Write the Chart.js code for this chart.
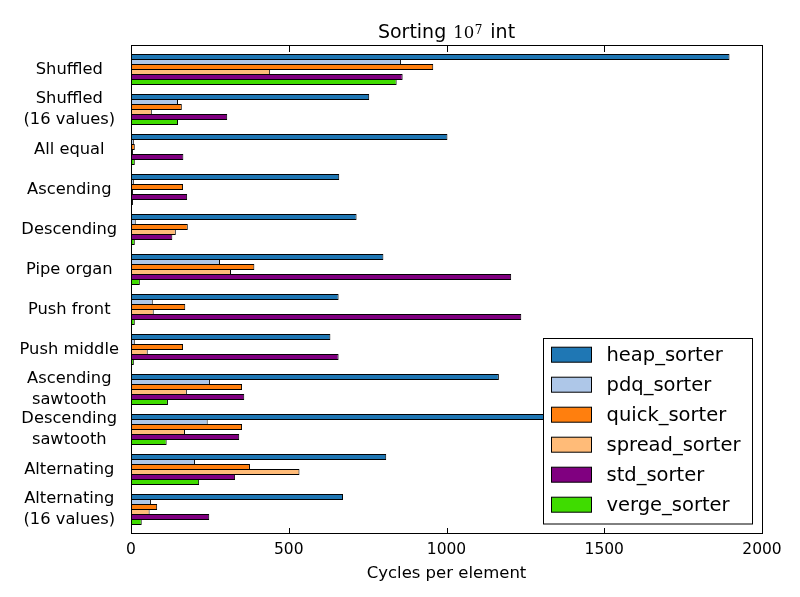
<!DOCTYPE html>
<html>
<head>
<meta charset="utf-8">
<script src="https://cdn.jsdelivr.net/npm/chart.js@4.4.0/dist/chart.umd.min.js"></script>
<style>
html,body{margin:0;padding:0;background:#fff;}
canvas{display:block;}
</style>
</head>
<body>
<canvas id="c" width="800" height="597" style="width:800px;height:597px"></canvas>
<script>
const categories = [
  'Shuffled', 'Shuffled\n(16 values)', 'All equal', 'Ascending', 'Descending',
  'Pipe organ', 'Push front', 'Push middle', 'Ascending\nsawtooth',
  'Descending\nsawtooth', 'Alternating', 'Alternating\n(16 values)'
];
const seriesNames = ['heap_sorter', 'pdq_sorter', 'quick_sorter', 'spread_sorter', 'std_sorter', 'verge_sorter'];
const heapSorter   = [1897, 755, 1003, 660, 715, 800, 658, 632, 1166, 1380, 809, 672];
const pdqSorter    = [856, 149, 9, 9, 15, 282, 69, 12, 250, 243, 203, 63];
const quickSorter  = [958, 161, 12, 165, 180, 391, 172, 165, 352, 352, 377, 83];
const spreadSorter = [441, 66, 6, 6, 142, 317, 72, 53, 177, 171, 534, 59];
const stdSorter    = [861, 305, 166, 178, 131, 1205, 1237, 658, 359, 343, 330, 248];
const vergeSorter  = [842, 149, 12, 6, 12, 28, 12, 9, 117, 113, 216, 34];
const xTickValues  = [0, 500, 1000, 1500, 2000];

const seriesValues = [heapSorter, pdqSorter, quickSorter, spreadSorter, stdSorter, vergeSorter];
const seriesColors = ['#1f77b4', '#aec7e8', '#ff7f0e', '#ffbb78', '#800080', '#3fdc00'];
const FONT = '"DejaVu Sans", sans-serif';

const framePlugin = {
  id: 'frame',
  afterDatasetsDraw(chart) {
    const {ctx, chartArea: a, scales} = chart;
    ctx.save();
    ctx.strokeStyle = '#000';
    ctx.lineWidth = 1;
    ctx.strokeRect(Math.round(a.left) + 0.5, Math.round(a.top) - 0.5, Math.round(a.right - a.left), Math.round(a.bottom - a.top));
    ctx.beginPath();
    xTickValues.forEach(v => {
      const px = Math.round(scales.x.getPixelForValue(v)) + 0.5;
      ctx.moveTo(px, a.top); ctx.lineTo(px, a.top + 6);
      ctx.moveTo(px, a.bottom); ctx.lineTo(px, a.bottom - 6);
    });
    ctx.stroke();
    ctx.restore();
  }
};

const titlePlugin = {
  id: 'customTitle',
  afterDraw(chart) {
    const {ctx, chartArea: a} = chart;
    const parts = [
      {t: 'Sorting', f: '19px ' + FONT, dy: 0, gap: 7},
      {t: '10', f: '16.5px "DejaVu Serif", serif', dy: 0, gap: 0.5},
      {t: '7', f: '12px "DejaVu Serif", serif', dy: -4, gap: 8},
      {t: 'int', f: '19px ' + FONT, dy: 0, gap: 0}
    ];
    ctx.save();
    ctx.fillStyle = '#000';
    ctx.textBaseline = 'alphabetic';
    ctx.textAlign = 'left';
    let total = 0;
    parts.forEach(p => { ctx.font = p.f; p.w = ctx.measureText(p.t).width; total += p.w + p.gap; });
    let x = (a.left + a.right) / 2 - total / 2;
    const base = 37.5;
    parts.forEach(p => { ctx.font = p.f; ctx.fillText(p.t, x, base + p.dy); x += p.w + p.gap; });
    ctx.restore();
  }
};

const legendPlugin = {
  id: 'customLegend',
  afterDraw(chart) {
    const ctx = chart.ctx;
    const bx = 543.5, by = 338.5, bw = 209, bh = 185.5;
    ctx.save();
    ctx.fillStyle = '#fff';
    ctx.fillRect(bx, by, bw, bh);
    ctx.strokeStyle = '#000';
    ctx.lineWidth = 1;
    ctx.strokeRect(bx, by, bw, bh);
    ctx.font = '19.5px ' + FONT;
    ctx.textBaseline = 'middle';
    ctx.textAlign = 'left';
    chart.data.datasets.forEach((ds, k) => {
      const cy = 354.7 + 30 * k;
      ctx.fillStyle = ds.backgroundColor;
      ctx.fillRect(551.5, cy - 7.5, 40, 15);
      ctx.strokeStyle = '#000';
      ctx.strokeRect(551.5, cy - 7.5, 40, 15);
      ctx.fillStyle = '#000';
      ctx.fillText(ds.label, 606.5, cy + 1);
    });
    ctx.restore();
  }
};

new Chart(document.getElementById('c'), {
  type: 'bar',
  data: {
    datasets: seriesNames.map((name, k) => ({
      label: name,
      data: seriesValues[k].map((v, i) => ({x: v, y: i})),
      backgroundColor: seriesColors[k],
      borderColor: '#000',
      borderWidth: 1,
      borderSkipped: false,
      inflateAmount: 0,
      categoryPercentage: 0.75,
      barPercentage: 1.2
    }))
  },
  options: {
    indexAxis: 'y',
    responsive: false,
    animation: false,
    devicePixelRatio: 1,
    layout: {padding: {left: 0, right: 38, top: 46, bottom: 0}},
    plugins: {legend: {display: false}, title: {display: false}, tooltip: {enabled: false}},
    scales: {
      x: {
        type: 'linear', min: 0, max: 2000, offset: false,
        afterBuildTicks: s => { s.ticks = xTickValues.map(v => ({value: v})); },
        ticks: {callback: v => String(v), autoSkip: false, font: {family: FONT, size: 15.5}, color: '#000', padding: 7, maxRotation: 0},
        grid: {display: false, drawTicks: false, offset: false},
        border: {display: false},
        title: {display: true, text: 'Cycles per element', font: {family: FONT, size: 16.5}, color: '#000', padding: {top: 0, bottom: 13}},
        afterFit: s => { s.height = 63; }
      },
      y: {
        type: 'linear', reverse: true, min: -0.5875, max: 11.6125, offset: false,
        afterBuildTicks: s => { s.ticks = categories.map((c, i) => ({value: i})); },
        ticks: {
          callback: v => categories[v].split('\n'),
          autoSkip: false,
          crossAlign: 'center', padding: 12,
          font: {family: FONT, size: 16.3, lineHeight: 1.28}, color: '#000'
        },
        grid: {display: false, drawTicks: false, offset: false},
        border: {display: false},
        afterFit: s => { s.width = 131; }
      }
    }
  },
  plugins: [framePlugin, titlePlugin, legendPlugin]
});
</script>
</body>
</html>
